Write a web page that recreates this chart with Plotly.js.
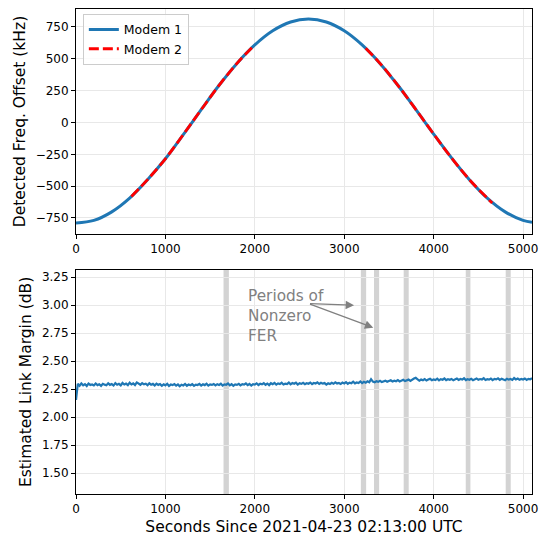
<!DOCTYPE html>
<html><head><meta charset="utf-8">
<script src="https://cdn.plot.ly/plotly-3.0.1.min.js"></script>
<style>html,body{margin:0;padding:0;background:#fff}#plot{width:539px;height:537px}</style>
</head><body><div id="plot"></div>
<script>
// Top panel: detected frequency offset (kHz)
const modem1T = [0,200,400,600,800,1000,1200,1400,1600,1800,2000,2200,2400,2600,2800,3000,3200,3400,3600,3800,4000,4200,4400,4600,4800,5000,5100];
const modem1F = [-790,-769,-702,-594,-449,-285,-95,100,292,464,609,720,789,812,789,720,609,464,292,103,-91,-278,-449,-594,-702,-769,-783];
const modem2T = [620,800,1000,1200,1400,1600,1800,1990,null,3240,3400,3600,3800,4000,4200,4400,4600,4655];
const modem2F = [-581,-449,-285,-95,100,292,464,604,null,583,464,292,103,-91,-278,-449,-594,-632];

// Bottom panel: estimated link margin (dB), one value every 20 s from 0 to 5100
const marginStart = 0, marginStep = 20;
const marginDb = [
2.155,2.298,2.281,2.302,2.285,2.296,2.279,2.300,2.288,2.293,
2.284,2.301,2.287,2.295,2.280,2.299,2.291,2.286,2.303,2.289,
2.296,2.283,2.304,2.290,2.298,2.285,2.306,2.292,2.300,2.287,
2.309,2.293,2.302,2.288,2.311,2.296,2.290,2.305,2.294,2.299,
2.286,2.303,2.291,2.298,2.284,2.300,2.289,2.296,2.281,2.294,
2.285,2.299,2.279,2.292,2.287,2.296,2.282,2.293,2.276,2.290,
2.284,2.297,2.281,2.292,2.286,2.295,2.280,2.291,2.288,2.298,
2.283,2.294,2.287,2.300,2.282,2.293,2.289,2.297,2.284,2.295,
2.288,2.299,2.283,2.294,2.290,2.301,2.285,2.296,2.281,2.293,
2.289,2.298,2.284,2.295,2.291,2.302,2.287,2.297,2.283,2.296,
2.292,2.303,2.288,2.299,2.294,2.305,2.290,2.301,2.287,2.304,
2.295,2.306,2.291,2.302,2.296,2.308,2.293,2.300,2.297,2.310,
2.294,2.305,2.299,2.309,2.292,2.303,2.298,2.307,2.295,2.304,
2.299,2.310,2.296,2.306,2.301,2.311,2.297,2.308,2.300,2.305,
2.291,2.303,2.296,2.308,2.299,2.312,2.301,2.306,2.297,2.310,
2.302,2.314,2.299,2.309,2.304,2.317,2.303,2.311,2.306,2.320,
2.305,2.316,2.309,2.321,2.312,2.340,2.318,2.313,2.322,2.316,
2.325,2.314,2.320,2.327,2.317,2.323,2.330,2.319,2.326,2.321,
2.331,2.320,2.327,2.334,2.323,2.329,2.336,2.325,2.338,2.345,
2.352,2.334,2.326,2.337,2.330,2.341,2.328,2.336,2.343,2.331,
2.338,2.332,2.344,2.329,2.340,2.335,2.346,2.331,2.339,2.334,
2.342,2.330,2.337,2.345,2.333,2.341,2.336,2.348,2.332,2.340,
2.335,2.344,2.331,2.339,2.346,2.334,2.341,2.337,2.349,2.333,
2.340,2.336,2.345,2.332,2.342,2.338,2.347,2.334,2.343,2.337,
2.331,2.344,2.336,2.341,2.333,2.350,2.338,2.345,2.335,2.342,
2.337,2.346,2.334,2.343,2.339,2.348
];
const marginT = marginDb.map((_, i) => marginStart + i * marginStep);

// Periods of nonzero FER (start, end in seconds)
const ferStart = [1650, 3186, 3333, 3665, 4359, 4806];
const ferEnd   = [1710, 3245, 3390, 3721, 4411, 4862];

const font = "DejaVu Sans, sans-serif";
const traces = [
  {x: modem1T, y: modem1F, type: 'scatter', mode: 'lines', name: 'Modem 1',
   line: {color: '#1f77b4', width: 3, shape: 'spline'}, xaxis: 'x', yaxis: 'y'},
  {x: modem2T, y: modem2F, type: 'scatter', mode: 'lines', name: 'Modem 2',
   line: {color: '#ff0000', width: 2.8, dash: '10px,4px', shape: 'spline'}, xaxis: 'x', yaxis: 'y'},
  {x: marginT, y: marginDb, type: 'scatter', mode: 'lines', showlegend: false,
   line: {color: '#1f77b4', width: 2.2}, xaxis: 'x2', yaxis: 'y2'}
];

const shapes = ferStart.map((s, i) => ({
  type: 'rect', xref: 'x2', yref: 'y2 domain', x0: s, x1: ferEnd[i], y0: 0, y1: 1,
  fillcolor: '#d3d3d3', line: {width: 0}, layer: 'below'
}));

const axisCommon = {
  showline: true, mirror: true, linecolor: '#000', linewidth: 1,
  ticks: 'outside', ticklen: 4, tickcolor: '#000', tickwidth: 1,
  showgrid: true, gridcolor: '#e8e8e8', gridwidth: 1, zeroline: false,
  tickfont: {family: font, size: 12, color: '#000'}
};

const layout = {
  width: 539, height: 537,
  margin: {l: 76, r: 7, t: 9, b: 43},
  paper_bgcolor: '#fff', plot_bgcolor: '#fff',
  font: {family: font, color: '#000'},
  showlegend: true,
  legend: {x: 0.015, y: 0.99, xanchor: 'left', yanchor: 'top',
           bordercolor: '#cccccc', borderwidth: 1, bgcolor: 'rgba(255,255,255,0.8)',
           font: {family: font, size: 12.5}, tracegroupgap: 2},
  xaxis: Object.assign({}, axisCommon, {domain: [0, 1], range: [0, 5100], dtick: 1000, tick0: 0, anchor: 'y'}),
  yaxis: Object.assign({}, axisCommon, {domain: [0.536, 1], range: [-876, 891], dtick: 250, tick0: 0, anchor: 'x',
          title: {text: 'Detected Freq. Offset (kHz)', font: {family: font, size: 15.5}, standoff: 6}}),
  xaxis2: Object.assign({}, axisCommon, {domain: [0, 1], range: [0, 5100], dtick: 1000, tick0: 0, anchor: 'y2',
          title: {text: 'Seconds Since 2021-04-23 02:13:00 UTC', font: {family: font, size: 15.5}, standoff: 5}}),
  yaxis2: Object.assign({}, axisCommon, {domain: [0, 0.462], range: [1.315, 3.315], dtick: 0.25, tick0: 1.5, tickformat: '.2f', anchor: 'x2',
          title: {text: 'Estimated Link Margin (dB)', font: {family: font, size: 15.5}, standoff: 6}}),
  shapes: shapes,
  annotations: [
    {xref: 'x2', yref: 'y2', x: 1905, y: 2.905, xanchor: 'left', yanchor: 'middle', align: 'left',
     text: 'Periods of<br>Nonzero<br>FER', showarrow: false,
     font: {family: font, size: 15.3, color: '#808080'}},
    {xref: 'x2', yref: 'y2', axref: 'x2', ayref: 'y2', x: 3110, y: 3.0, ax: 2600, ay: 3.015,
     text: '', showarrow: true, arrowhead: 2, arrowsize: 1.3, arrowwidth: 1.3, arrowcolor: '#808080'},
    {xref: 'x2', yref: 'y2', axref: 'x2', ayref: 'y2', x: 3325, y: 2.8, ax: 2600, ay: 3.015,
     text: '', showarrow: true, arrowhead: 2, arrowsize: 1.3, arrowwidth: 1.3, arrowcolor: '#808080'}
  ]
};

Plotly.newPlot('plot', traces, layout, {displayModeBar: false, staticPlot: true});
</script>
</body></html>
